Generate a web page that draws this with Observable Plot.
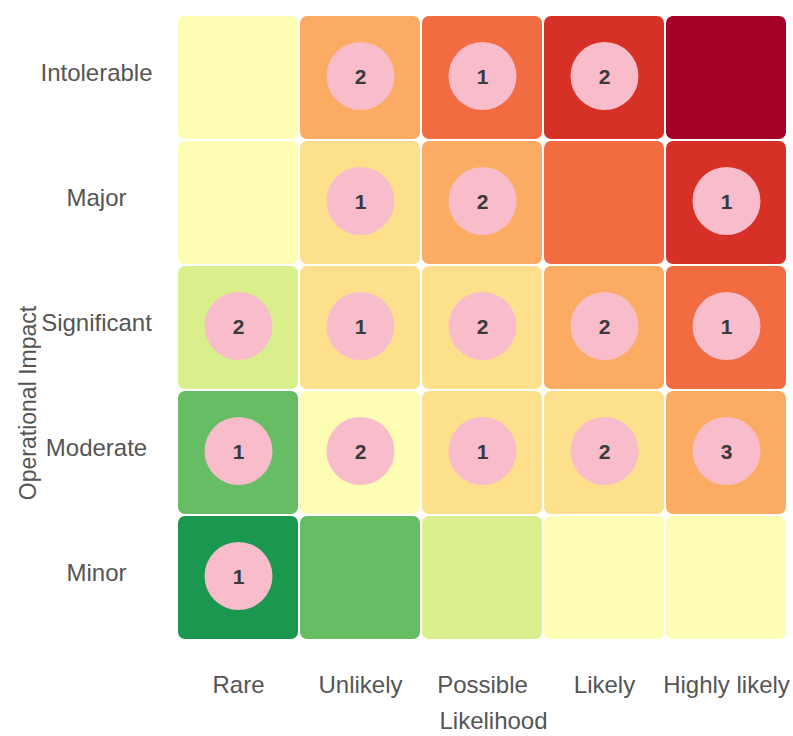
<!DOCTYPE html>
<html>
<head>
<meta charset="utf-8">
<script src="https://cdn.jsdelivr.net/npm/d3@7"></script>
<script src="https://cdn.jsdelivr.net/npm/@observablehq/plot@0.6"></script>
<style>
  html, body { margin: 0; padding: 0; background: #fff; }
</style>
</head>
<body>
<div id="chart"></div>
<script>
const likelihood = ["Rare", "Unlikely", "Possible", "Likely", "Highly likely"];
const impact = ["Intolerable", "Major", "Significant", "Moderate", "Minor"];

// risk level per cell (row = impact, column = likelihood)
const intolerableLevel = [3, 5, 6, 7, 8];
const majorLevel       = [3, 4, 5, 6, 7];
const significantLevel = [2, 4, 4, 5, 6];
const moderateLevel    = [1, 3, 4, 4, 5];
const minorLevel       = [0, 1, 2, 3, 3];

// number of items in each cell
const intolerableCount = [null, 2, 1, 2, null];
const majorCount       = [null, 1, 2, null, 1];
const significantCount = [2, 1, 2, 2, 1];
const moderateCount    = [1, 2, 1, 2, 3];
const minorCount       = [1, null, null, null, null];

const levelColors = ["#1a9850", "#66bd63", "#d9ef8b", "#fdfdb4", "#fde08c", "#fcac62", "#f26c42", "#d73027", "#a50026"];

const levels = [intolerableLevel, majorLevel, significantLevel, moderateLevel, minorLevel];
const counts = [intolerableCount, majorCount, significantCount, moderateCount, minorCount];

const cells = [];
impact.forEach((imp, i) => {
  likelihood.forEach((lik, j) => {
    cells.push({impact: imp, likelihood: lik, level: levels[i][j], count: counts[i][j]});
  });
});
const counted = cells.filter(d => d.count != null);

const chart = Plot.plot({
  width: 793,
  height: 736,
  marginLeft: 176,
  marginRight: 5,
  marginTop: 13,
  marginBottom: 94,
  style: {fontFamily: "'Liberation Sans', Arial, sans-serif", fontSize: "24px", color: "#555", background: "#fff"},
  x: {domain: likelihood, padding: 0, label: null},
  y: {domain: impact, padding: 0, label: null},
  color: {type: "ordinal", domain: d3.range(levelColors.length), range: levelColors},
  marks: [
    Plot.cell(cells, {x: "likelihood", y: "impact", fill: "level", inset: 1, rx: 7}),
    Plot.dot(counted, {x: "likelihood", y: "impact", dy: -2, r: 34, fill: "#f9bccb", stroke: null}),
    Plot.text(counted, {x: "likelihood", y: "impact", dy: -1, text: d => String(d.count), fontSize: 21, fontWeight: "bold", fill: "#3a3a3a"}),
    Plot.axisX({tickSize: 0, tickPadding: 33, label: null, fontSize: 24, fill: "#555"}),
    Plot.axisY({tickSize: 0, tickPadding: 80, dy: -5, textAnchor: "middle", label: null, fontSize: 24, fill: "#555"}),
    Plot.text(["Likelihood"], {frameAnchor: "bottom", dx: 11, dy: 79, lineAnchor: "middle", fontSize: 24, fill: "#555"}),
    Plot.text(["Operational Impact"], {frameAnchor: "left", dx: -148, dy: 75, rotate: -90, textAnchor: "middle", lineAnchor: "middle", fontSize: 23, fill: "#555"})
  ]
});
document.getElementById("chart").appendChild(chart);
</script>
</body>
</html>
